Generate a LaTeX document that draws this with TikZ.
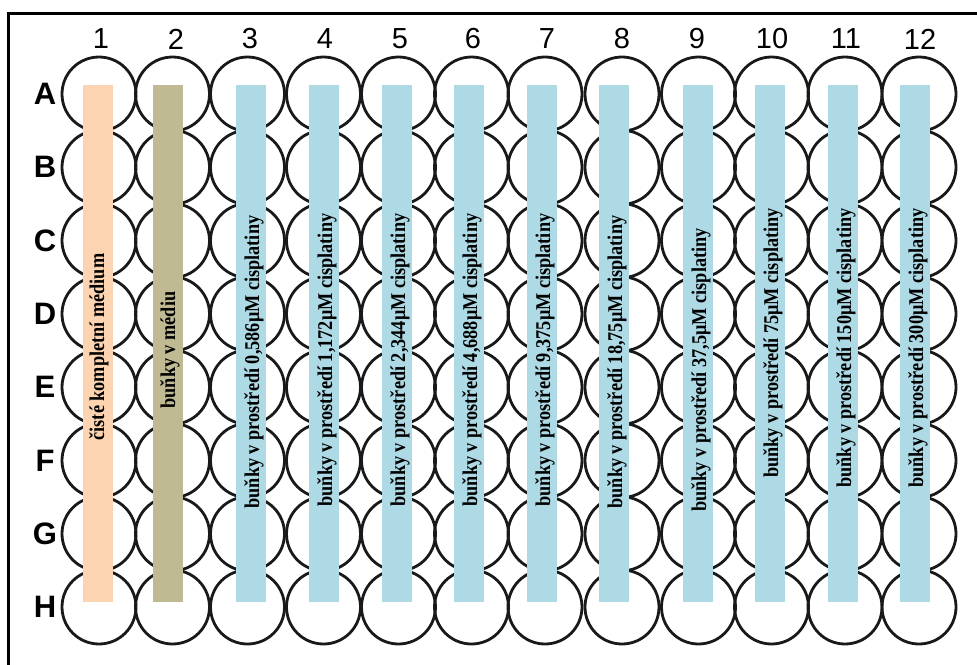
\documentclass[tikz,border=0pt]{standalone}
\usepackage{fontspec}
\setmainfont{Liberation Serif}
\setsansfont{Liberation Sans}
\usepackage{tikz}
\usetikzlibrary{positioning}
\definecolor{peach}{RGB}{252,212,178}
\definecolor{khaki}{RGB}{192,186,146}
\definecolor{paleblue}{RGB}{174,218,230}

\begin{document}
\begin{tikzpicture}[
x=1pt,y=-1pt,
well/.style={
draw=black!90,
line width=2.8pt,
circle,
inner sep=0pt,
minimum size=74pt
},
strip/.style={
rectangle,
inner sep=0pt,
minimum width=30pt,
minimum height=517pt
},
striplabel/.style={
rotate=90,
xscale=0.87,
inner sep=0pt,
font=\bfseries\fontsize{21}{21}\selectfont
},
colnum/.style={
font=\sffamily\fontsize{29}{29}\selectfont
},
rowlet/.style={
font=\sffamily\bfseries\fontsize{31}{31}\selectfont
},
frame/.style={draw,line width=3pt}
]

\useasboundingbox (0,0) rectangle (977,664);
\clip (0,0) rectangle (977,664);

%---------------- Frame ----------------%

\draw[frame] (8,13) rectangle (990,680);

%---------------- Wells ----------------%

\foreach \r/\y in {A/94,B/167.3,C/240.6,D/313.9,E/387.2,F/460.5,G/533.8,H/607}
\foreach \c/\x in {1/99,2/172.5,3/247.5,4/323.5,5/398.5,6/471.5,7/545,8/622,9/698.5,10/771.5,11/845,12/919}
\node[well] (well\r\c) at (\x,\y) {};

%---------------- Labels ----------------%

\node[colnum] (n1) at (101,39) {1};
\node[colnum] (n2) at (176,39) {2};
\node[colnum] (n3) at (250,39) {3};
\node[colnum] (n4) at (325,39) {4};
\node[colnum] (n5) at (400,39) {5};
\node[colnum] (n6) at (473,39) {6};
\node[colnum] (n7) at (547,39) {7};
\node[colnum] (n8) at (622,39) {8};
\node[colnum] (n9) at (697,39) {9};
\node[colnum] (n10) at (772,39) {10};
\node[colnum] (n11) at (846,39) {11};
\node[colnum] (n12) at (920,39) {12};

\node[rowlet] (lA) at (45,94) {A};
\node[rowlet] (lB) at (45,167.3) {B};
\node[rowlet] (lC) at (45,240.6) {C};
\node[rowlet] (lD) at (45,313.9) {D};
\node[rowlet] (lE) at (45,387.2) {E};
\node[rowlet] (lF) at (45,460.5) {F};
\node[rowlet] (lG) at (45,533.8) {G};
\node[rowlet] (lH) at (45,607) {H};

%---------------- Strips ----------------%

\node[strip,fill=peach] (s1) at (98,343.25) {};
\node[strip,fill=khaki] (s2) at (168,343.25) {};
\node[strip,fill=paleblue] (s3) at (250.5,343.25) {};
\node[strip,fill=paleblue] (s4) at (324,343.25) {};
\node[strip,fill=paleblue] (s5) at (396.5,343.25) {};
\node[strip,fill=paleblue] (s6) at (468.5,343.25) {};
\node[strip,fill=paleblue] (s7) at (541.5,343.25) {};
\node[strip,fill=paleblue] (s8) at (614,343.25) {};
\node[strip,fill=paleblue] (s9) at (697.5,343.25) {};
\node[strip,fill=paleblue] (s10) at (769.5,343.25) {};
\node[strip,fill=paleblue] (s11) at (842.5,343.25) {};
\node[strip,fill=paleblue] (s12) at (914.5,343.25) {};

\node[striplabel] (t1) at (99,347) {čisté kompletní médium};
\node[striplabel] (t2) at (170,350) {buňky v médiu};
\node[striplabel] (t3) at (254,362) {buňky v prostředí 0,586μM cisplatiny};
\node[striplabel] (t4) at (327,360) {buňky v prostředí 1,172μM cisplatiny};
\node[striplabel] (t5) at (400,360) {buňky v prostředí 2,344μM cisplatiny};
\node[striplabel] (t6) at (472,360) {buňky v prostředí 4,688μM cisplatiny};
\node[striplabel] (t7) at (545,360) {buňky v prostředí 9,375μM cisplatiny};
\node[striplabel] (t8) at (617,362) {buňky v prostředí 18,75μM cisplatiny};
\node[striplabel] (t9) at (701,370) {buňky v prostředí 37,5μM cisplatiny};
\node[striplabel] (t10) at (773,343) {buňky v prostředí 75μM cisplatiny};
\node[striplabel] (t11) at (846,348) {buňky v prostředí 150μM cisplatiny};
\node[striplabel] (t12) at (918,348) {buňky v prostředí 300μM cisplatiny};

\end{tikzpicture}
\end{document}
